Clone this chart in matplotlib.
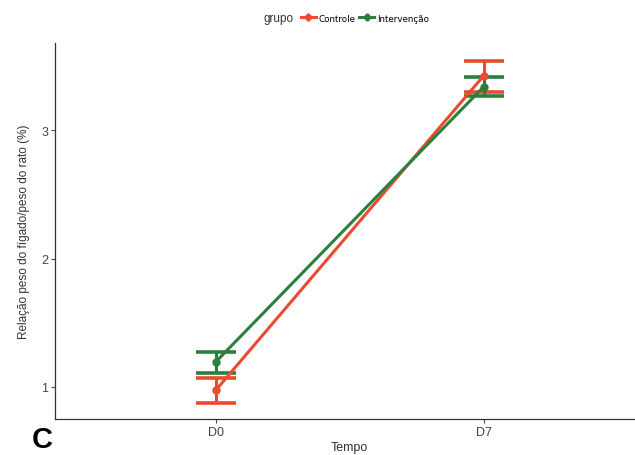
import numpy as np
import matplotlib.pyplot as plt
from matplotlib.lines import Line2D

plt.rcParams['font.family'] = ['Liberation Sans', 'DejaVu Sans']

# data
tempo = ['D0', 'D7']
grupos = ['Controle', 'Intervenção']
cores = {'Controle': '#EC4A30', 'Intervenção': '#2C7F3C'}
media = {'Controle': [0.974, 3.424], 'Intervenção': [1.195, 3.338]}
lim_sup = {'Controle': [1.068, 3.541], 'Intervenção': [1.276, 3.416]}
lim_inf = {'Controle': [0.877, 3.302], 'Intervenção': [1.107, 3.268]}

fig = plt.figure(figsize=(6.35, 4.56), dpi=100)
ax = fig.add_axes([0.0866, 0.0789, 0.928, 0.8246])

x = np.arange(1, len(tempo) + 1)
for g in grupos:
    m = np.array(media[g])
    up = np.array(lim_sup[g]) - m
    lo = m - np.array(lim_inf[g])
    ax.errorbar(x, m, yerr=[lo, up], color=cores[g], linewidth=2.2,
                elinewidth=2.2, capsize=14.5, capthick=2.6,
                marker='o', markersize=5)

ax.set_xlim(0.4, 2.6)
ax.set_ylim(0.75, 3.68)
ax.set_xticks(x)
ax.set_xticklabels(tempo)
ax.set_yticks([1, 2, 3])
ax.tick_params(colors='#444444', labelsize=9, length=3, width=0.8, pad=2)
for s in ['top', 'right']:
    ax.spines[s].set_visible(False)
for s in ['left', 'bottom']:
    ax.spines[s].set_color('#333333')
    ax.spines[s].set_linewidth(0.9)

ax.set_xlabel('Tempo', fontsize=9, color='#333333', labelpad=2)
ax.set_ylabel('Relação peso do fígado/peso do rato (%)', fontsize=8.5,
              color='#333333', labelpad=8)

# legend on top: title at left, keys in a row
fig.text(264 / 635, 1 - 19 / 456, 'grupo', fontsize=8.5, color='#333333',
         ha='left', va='center')
handles = []
for g in grupos:
    linha = Line2D([], [], color=cores[g], linewidth=2.2, marker='o',
                   markersize=4)
    barra = Line2D([], [], color=cores[g], linestyle='none', marker='|',
                   markersize=6, markeredgewidth=2)
    handles.append((linha, barra))
fig.legend(handles, grupos, loc='center left',
           bbox_to_anchor=(301 / 635, 1 - 19 / 456), ncol=2, frameon=False,
           prop={'family': 'DejaVu Sans', 'size': 6.3}, handlelength=1.7,
           handletextpad=0.35, columnspacing=0.4, borderpad=0,
           borderaxespad=0)

fig.text(42 / 635, 1 - 440 / 456, 'C', fontsize=21, fontweight='bold',
         color='black', ha='center', va='center')

fig.savefig('out.png', dpi=100)
